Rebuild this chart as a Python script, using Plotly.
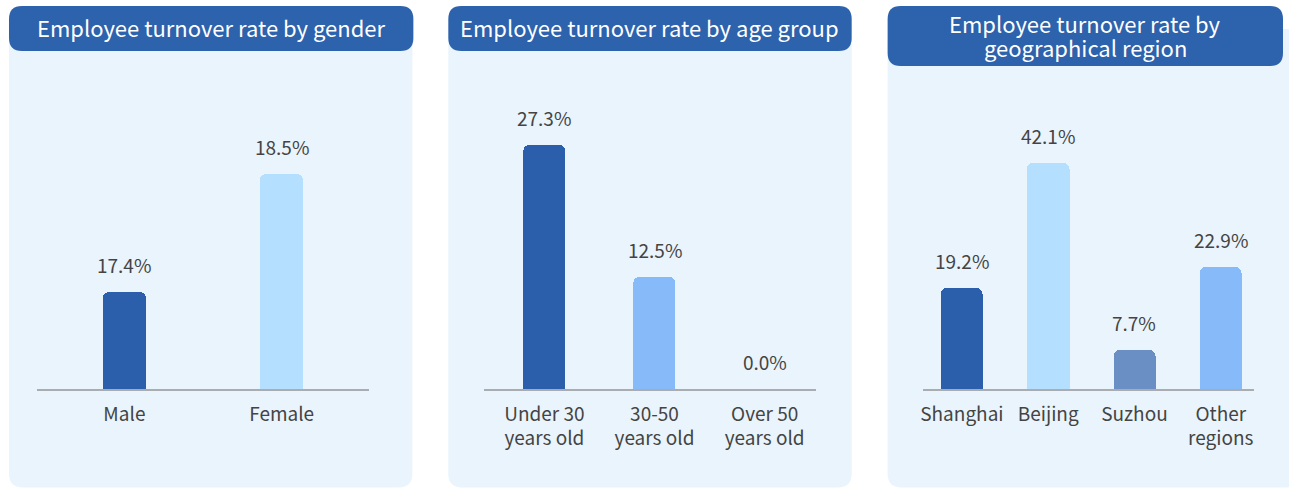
import plotly.graph_objects as go

# ---------------- data ----------------
gender_categories = ["Male", "Female"]
gender_values = [17.4, 18.5]

age_categories = ["Under 30<br>years old", "30-50<br>years old", "Over 50<br>years old"]
age_values = [27.3, 12.5, 0.0]

region_categories = ["Shanghai", "Beijing", "Suzhou", "Other<br>regions"]
region_values = [19.2, 42.1, 7.7, 22.9]

panel_titles = [
    ["Employee turnover rate by gender"],
    ["Employee turnover rate by age group"],
    ["Employee turnover rate by", "geographical region"],
]

# ---------------- style ----------------
W, H = 1289, 488
FONT = "Noto Sans CJK SC"
HEADER = "#2d62ad"
PANEL_BG = "#eaf4fc"
TEXT = "#444444"
AXIS = "#a9adb2"
DARK, LIGHT, MID, SLATE = "#2b5fab", "#b5dffe", "#87baf8", "#6a8fc5"

gender_colors = [DARK, LIGHT]
age_colors = [DARK, MID, MID]
region_colors = [DARK, LIGHT, SLATE, MID]


def fx(x):
    return x / W


def fy(y):
    return 1 - y / H


def rrect(x0, y0, x1, y1, r):
    pts = [
        ("M", [(x0 + r, y0)]),
        ("L", [(x1 - r, y0)]),
        ("Q", [(x1, y0), (x1, y0 + r)]),
        ("L", [(x1, y1 - r)]),
        ("Q", [(x1, y1), (x1 - r, y1)]),
        ("L", [(x0 + r, y1)]),
        ("Q", [(x0, y1), (x0, y1 - r)]),
        ("L", [(x0, y0 + r)]),
        ("Q", [(x0, y0), (x0 + r, y0)]),
    ]
    s = ""
    for cmd, ps in pts:
        s += cmd + " " + " ".join(f"{fx(a):.6f},{fy(b):.6f}" for a, b in ps) + " "
    return s + "Z"


fig = go.Figure()

# plot-area geometry (pixels)
PLOT_TOP, PLOT_BOTTOM = 90, 389
ydom = [fy(PLOT_BOTTOM), fy(PLOT_TOP)]

panels = [
    dict(cats=gender_categories, vals=gender_values, cols=gender_colors,
         xd=(35, 368), xr=[-0.556, 1.558], yr=[16.4985, 16.4985 + 299 / 107.27], bw=0.27),
    dict(cats=age_categories, vals=age_values, cols=age_colors,
         xd=(483, 815), xr=[-0.546, 2.464], yr=[0, 299 / 8.93], bw=0.384),
    dict(cats=region_categories, vals=region_values, cols=region_colors,
         xd=(922, 1254), xr=[-0.456, 3.386], yr=[0.55, 0.55 + 299 / 5.441], bw=0.49),
]

annotations = []
for i, p in enumerate(panels, start=1):
    xa = "x" if i == 1 else f"x{i}"
    ya = "y" if i == 1 else f"y{i}"
    fig.add_trace(go.Bar(
        x=p["cats"], y=p["vals"], xaxis=xa, yaxis=ya,
        marker=dict(color=p["cols"], cornerradius=6, line=dict(width=0)),
        width=p["bw"], showlegend=False, hoverinfo="skip",
    ))
    xkey = "xaxis" if i == 1 else f"xaxis{i}"
    ykey = "yaxis" if i == 1 else f"yaxis{i}"
    fig.update_layout({
        xkey: dict(domain=[fx(p["xd"][0]), fx(p["xd"][1])], anchor=ya, type="category",
                   range=p["xr"], showline=True, linecolor=AXIS, linewidth=1.5,
                   showgrid=False, zeroline=False, ticks="", fixedrange=True,
                   tickfont=dict(family=FONT, size=19, color=TEXT), ticklabelstandoff=7),
        ykey: dict(domain=ydom, anchor=xa, range=p["yr"], visible=False,
                   showgrid=False, zeroline=False, fixedrange=True),
    })
    for c, v in zip(p["cats"], p["vals"]):
        annotations.append(dict(
            x=c, y=max(v, p["yr"][0]), xref=xa, yref=ya, text=f"{v:.1f}%",
            showarrow=False, yanchor="bottom", yshift=12,
            font=dict(family=FONT, size=19, color=TEXT),
        ))

# panel backgrounds and headers
shapes = []
bg_boxes = [(7, 29, 411, 487.5), (447, 29, 851, 487.5), (887, 29, 1300, 487.5)]
hd_boxes = [(7, 6, 412, 51), (447, 6, 851, 51), (887, 6, 1283, 66)]
LINE_GAP = 23
for (x0, y0, x1, y1) in bg_boxes:
    shapes.append(dict(type="path", path=rrect(x0, y0, x1, y1, 14), xref="paper", yref="paper",
                       fillcolor=PANEL_BG, line=dict(width=0), layer="below"))
for (x0, y0, x1, y1), lines in zip(hd_boxes, panel_titles):
    shapes.append(dict(type="path", path=rrect(x0, y0, x1, y1, 13), xref="paper", yref="paper",
                       fillcolor=HEADER, line=dict(width=0), layer="below"))
    n = len(lines)
    cy = (y0 + y1) / 2 - 1
    for k, t in enumerate(lines):
        yc = cy + (k - (n - 1) / 2) * LINE_GAP
        annotations.append(dict(
            x=fx((x0 + x1) / 2), y=fy(yc), xref="paper", yref="paper",
            text=t, showarrow=False, xanchor="center", yanchor="middle",
            font=dict(family=FONT, size=22, color="white"),
        ))

fig.update_layout(
    width=W, height=H, margin=dict(l=0, r=0, t=0, b=0),
    paper_bgcolor="white", plot_bgcolor="rgba(0,0,0,0)",
    shapes=shapes, annotations=annotations, bargap=0,
    font=dict(family=FONT, color=TEXT),
)

fig.write_html("out.html")
